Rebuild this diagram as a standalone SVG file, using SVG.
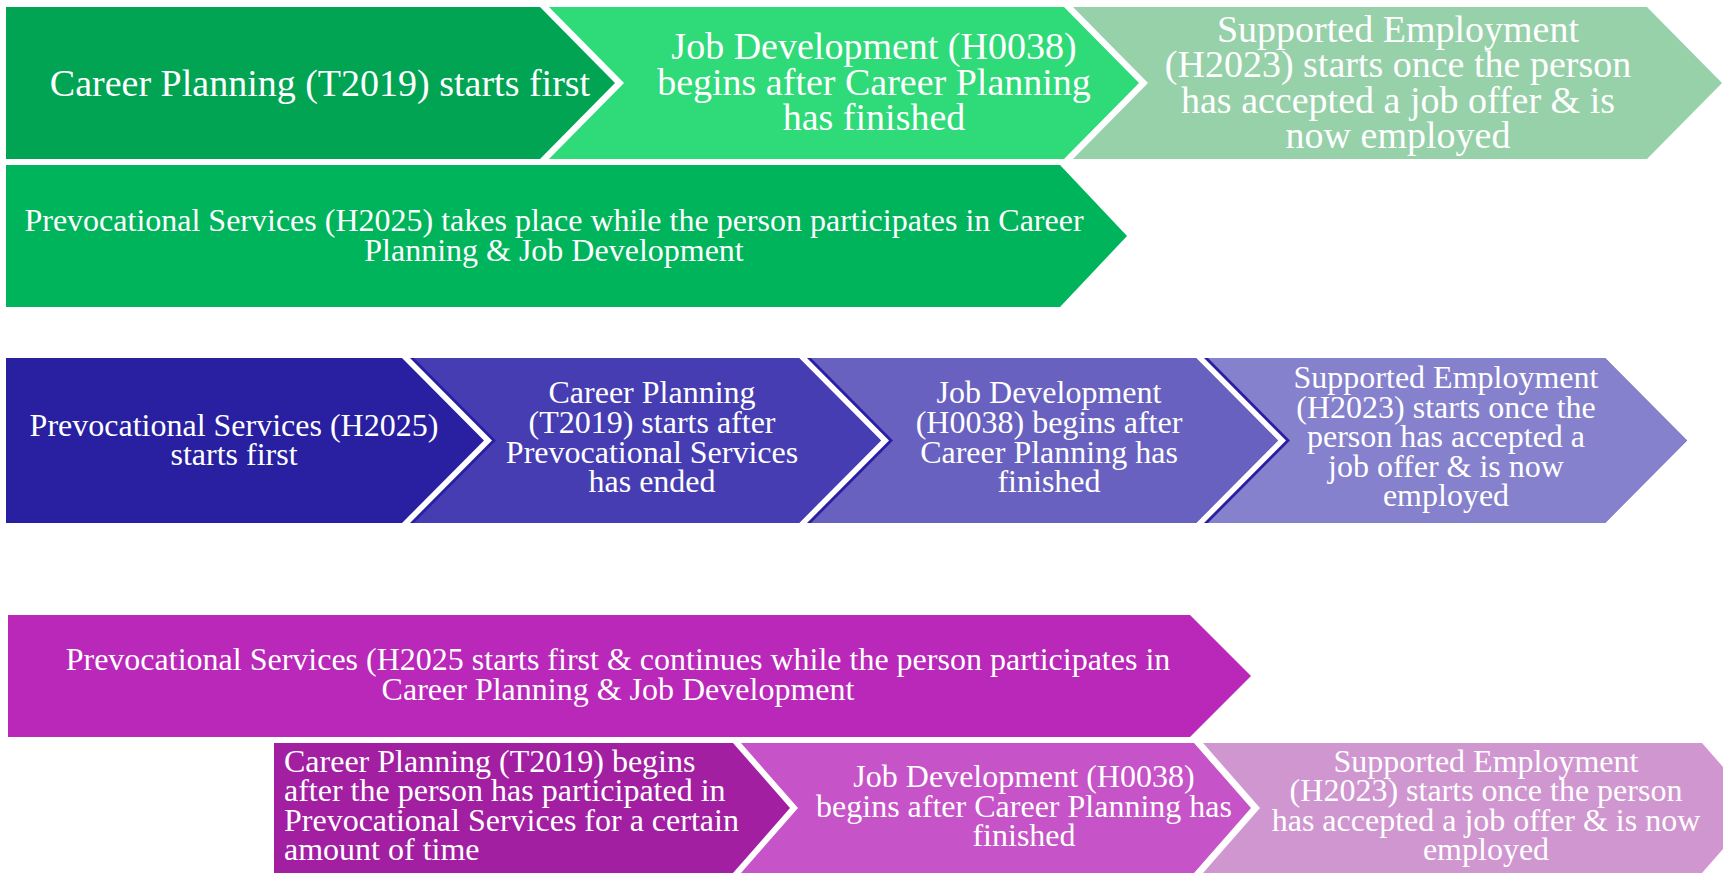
<svg xmlns="http://www.w3.org/2000/svg" width="1723" height="873" viewBox="0 0 1723 873">
  <style>
    .t { font-family: "Liberation Serif", "Times New Roman", serif; fill: #ffffff; text-anchor: middle; }
    .big { font-size: 38px; }
    .small { font-size: 32px; }
    .left { text-anchor: start; }
    .a { fill: #00A453; }
    .b { fill: #2FDA78; }
    .c { fill: #97D1A9; }
    .d { fill: #00B45C; }
    .e { fill: #281FA1; }
    .f { fill: #463DB3; }
    .g { fill: #6961C0; }
    .h { fill: #8681CC; }
    .edge { fill: #2A1FA2; }
    .i { fill: #B928B8; }
    .j { fill: #A21FA2; }
    .k { fill: #C653C7; }
    .l { fill: #D096D0; }
  </style>
  <rect width="1723" height="873" fill="#ffffff"/>

  <!-- Row 1: Career Planning first -->
  <g id="row1-career-planning">
    <polygon class="a" points="6,7 540,7 615,83 540,159 6,159"/>
    <text class="t big" x="320" y="96">Career Planning (T2019) starts first</text>
  </g>
  <g id="row1-job-development">
    <polygon class="b" points="549,7 1064,7 1139,83 1064,159 549,159 624,83"/>
    <text class="t big" x="874" y="59">Job Development (H0038)</text>
    <text class="t big" x="874" y="94.5">begins after Career Planning</text>
    <text class="t big" x="874" y="130">has finished</text>
  </g>
  <g id="row1-supported-employment">
    <polygon class="c" points="1073,7 1647,7 1722,83 1647,159 1073,159 1148,83"/>
    <text class="t big" x="1398" y="42">Supported Employment</text>
    <text class="t big" x="1398" y="77.3">(H2023) starts once the person</text>
    <text class="t big" x="1398" y="112.6">has accepted a job offer &amp; is</text>
    <text class="t big" x="1398" y="147.9">now employed</text>
  </g>
  <g id="row1-prevocational">
    <polygon class="d" points="6,165 1060,165 1127,236 1060,307 6,307"/>
    <text class="t small" x="554" y="231">Prevocational Services (H2025) takes place while the person participates in Career</text>
    <text class="t small" x="554" y="260.5">Planning &amp; Job Development</text>
  </g>

  <!-- Row 2: Prevocational Services first -->
  <g id="row2-prevocational">
    <polygon class="e" points="6,358 402,358 484,440.5 402,523 6,523"/>
    <text class="t small" x="234" y="435.5">Prevocational Services (H2025)</text>
    <text class="t small" x="234" y="465">starts first</text>
  </g>
  <g id="row2-career-planning">
    <polygon class="edge" points="410,358 799,358 881,440.5 799,523 410,523 492,440.5"/>
    <polygon class="f" points="414,358 799,358 881,440.5 799,523 414,523 496,440.5"/>
    <text class="t small" x="652" y="403.3">Career Planning</text>
    <text class="t small" x="652" y="433">(T2019) starts after</text>
    <text class="t small" x="652" y="462.6">Prevocational Services</text>
    <text class="t small" x="652" y="492.3">has ended</text>
  </g>
  <g id="row2-job-development">
    <polygon class="edge" points="807,358 1196,358 1278,440.5 1196,523 807,523 889,440.5"/>
    <polygon class="g" points="811,358 1196,358 1278,440.5 1196,523 811,523 893,440.5"/>
    <text class="t small" x="1049" y="403.3">Job Development</text>
    <text class="t small" x="1049" y="433">(H0038) begins after</text>
    <text class="t small" x="1049" y="462.6">Career Planning has</text>
    <text class="t small" x="1049" y="492.3">finished</text>
  </g>
  <g id="row2-supported-employment">
    <polygon class="edge" points="1204,358 1605,358 1687,440.5 1605,523 1204,523 1286,440.5"/>
    <polygon class="h" points="1208,358 1605,358 1687,440.5 1605,523 1208,523 1290,440.5"/>
    <text class="t small" x="1446" y="388">Supported Employment</text>
    <text class="t small" x="1446" y="417.6">(H2023) starts once the</text>
    <text class="t small" x="1446" y="447.2">person has accepted a</text>
    <text class="t small" x="1446" y="476.8">job offer &amp; is now</text>
    <text class="t small" x="1446" y="506.4">employed</text>
  </g>

  <!-- Row 3: Prevocational Services continues alongside -->
  <g id="row3-prevocational">
    <polygon class="i" points="8,615 1190,615 1251,676 1190,737 8,737"/>
    <text class="t small" x="618" y="669.5">Prevocational Services (H2025 starts first &amp; continues while the person participates in</text>
    <text class="t small" x="618" y="699.5">Career Planning &amp; Job Development</text>
  </g>
  <g id="row3-career-planning">
    <polygon class="j" points="274,743 733,743 790,808 733,873 274,873"/>
    <text class="t small left" x="284" y="771.5">Career Planning (T2019) begins</text>
    <text class="t small left" x="284" y="801">after the person has participated in</text>
    <text class="t small left" x="284" y="830.5">Prevocational Services for a certain</text>
    <text class="t small left" x="284" y="860">amount of time</text>
  </g>
  <g id="row3-job-development">
    <polygon class="k" points="741,743 1194,743 1251,808 1194,873 741,873 798,808"/>
    <text class="t small" x="1024" y="787">Job Development (H0038)</text>
    <text class="t small" x="1024" y="816.5">begins after Career Planning has</text>
    <text class="t small" x="1024" y="846">finished</text>
  </g>
  <g id="row3-supported-employment">
    <polygon class="l" points="1203,743 1702,743 1759,808 1702,873 1203,873 1260,808"/>
    <text class="t small" x="1486" y="771.5">Supported Employment</text>
    <text class="t small" x="1486" y="801">(H2023) starts once the person</text>
    <text class="t small" x="1486" y="830.5">has accepted a job offer &amp; is now</text>
    <text class="t small" x="1486" y="860">employed</text>
  </g>

  <!-- No connector lines: the chevron shapes carry the sequence -->
  <g id="connectors"/>
</svg>
